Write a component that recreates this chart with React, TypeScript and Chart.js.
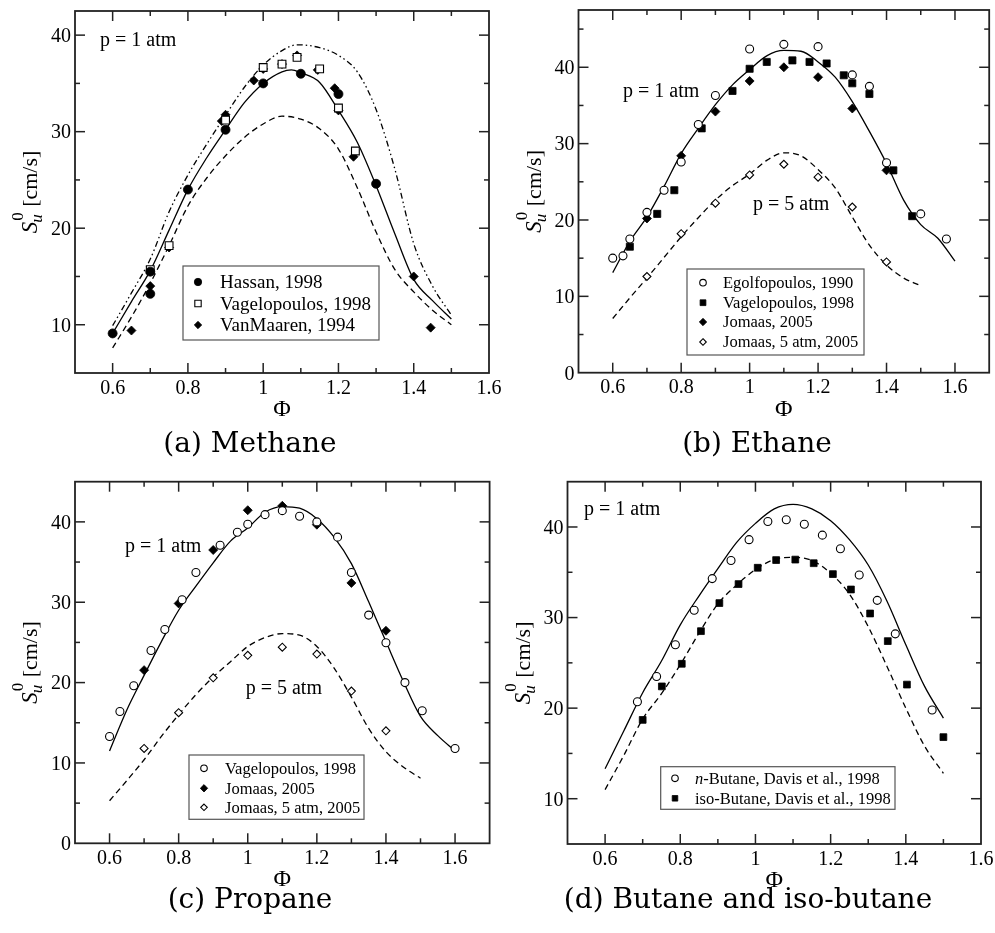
import React, { useEffect, useRef } from "react";
import { Chart, registerables } from "chart.js";

Chart.register(...registerables);

const SERIF = "'Liberation Serif', 'Times New Roman', Times, serif";
const CAPTION_FONT = "'DejaVu Serif', serif";
const AXIS_COLOR = "#222";

// ---------- shared tick values ----------
const phiMajor = [0.6, 0.8, 1.0, 1.2, 1.4, 1.6];
const phiLabels = ["0.6", "0.8", "1", "1.2", "1.4", "1.6"];
const phiMinor = [0.7, 0.9, 1.1, 1.3, 1.5];
const suMajorFrom10 = [10, 20, 30, 40];
const suLabelsFrom10 = ["10", "20", "30", "40"];
const suMajorFrom0 = [0, 10, 20, 30, 40];
const suLabelsFrom0 = ["0", "10", "20", "30", "40"];

// ---------- (a) Methane ----------
const ch4HassanPhi = [0.6, 0.7, 0.7, 0.8, 0.9, 1.0, 1.1, 1.2, 1.3];
const ch4HassanSu = [9.1, 15.5, 13.2, 24.0, 30.2, 35.0, 36.0, 33.9, 24.6];
const ch4VagelPhi = [0.7, 0.75, 0.9, 1.0, 1.05, 1.09, 1.15, 1.2, 1.245];
const ch4VagelSu = [15.7, 18.2, 31.2, 36.65, 37.0, 37.7, 36.5, 32.45, 28.0];
const ch4MaarenPhi = [0.65, 0.7, 0.75, 0.89, 0.9, 0.975, 1.0, 1.05, 1.09, 1.145, 1.19, 1.2, 1.24, 1.4, 1.445];
const ch4MaarenSu = [9.4, 14.0, 18.0, 31.1, 31.75, 35.3, 36.5, 37.0, 37.9, 36.4, 34.5, 32.2, 27.4, 15.0, 9.7];
const ch4SolidPhi = [0.6, 0.65, 0.7, 0.75, 0.8, 0.85, 0.9, 0.95, 1.0, 1.05, 1.075, 1.1, 1.15, 1.2, 1.25, 1.3, 1.35, 1.4, 1.45, 1.5];
const ch4SolidSu = [9.1, 12.4, 15.6, 19.8, 24.0, 27.3, 30.2, 33.0, 35.0, 36.2, 36.4, 36.1, 35.1, 32.2, 28.9, 24.4, 19.4, 14.7, 12.5, 10.6];
const ch4DashPhi = [0.6, 0.65, 0.7, 0.75, 0.8, 0.85, 0.9, 0.95, 1.0, 1.05, 1.1, 1.15, 1.2, 1.25, 1.3, 1.35, 1.4, 1.45, 1.5];
const ch4DashSu = [7.6, 10.8, 14.3, 18.2, 22.3, 25.2, 27.5, 29.4, 30.8, 31.6, 31.3, 30.3, 28.2, 24.2, 19.6, 15.7, 13.4, 11.5, 10.0];
const ch4DotPhi = [0.6, 0.65, 0.7, 0.75, 0.8, 0.85, 0.9, 0.95, 1.0, 1.05, 1.09, 1.15, 1.2, 1.25, 1.3, 1.35, 1.4, 1.45, 1.5];
const ch4DotSu = [9.9, 13.3, 16.8, 21.7, 25.5, 28.7, 31.7, 34.6, 36.9, 38.4, 39.0, 38.7, 37.9, 36.2, 32.3, 26.1, 18.4, 14.0, 11.0];

// ---------- (b) Ethane ----------
const c2EgolfPhi = [0.6, 0.63, 0.65, 0.7, 0.75, 0.8, 0.85, 0.9, 1.0, 1.1, 1.2, 1.3, 1.35, 1.4, 1.5, 1.575];
const c2EgolfSu = [15.0, 15.3, 17.5, 21.0, 23.9, 27.6, 32.5, 36.3, 42.4, 43.0, 42.7, 39.0, 37.5, 27.5, 20.8, 17.5];
const c2VagelPhi = [0.65, 0.73, 0.78, 0.86, 0.95, 1.0, 1.05, 1.125, 1.175, 1.225, 1.275, 1.3, 1.35, 1.42, 1.475];
const c2VagelSu = [16.5, 20.8, 23.9, 32.0, 36.9, 39.8, 40.7, 40.9, 40.7, 40.5, 38.95, 37.9, 36.5, 26.5, 20.5];
const c2JomaasPhi = [0.7, 0.8, 0.9, 1.0, 1.1, 1.2, 1.3, 1.4];
const c2JomaasSu = [20.2, 28.4, 34.2, 38.2, 40.0, 38.7, 34.6, 26.5];
const c2Jomaas5Su = [12.6, 18.2, 22.2, 25.9, 27.3, 25.6, 21.7, 14.5];
const c2SolidPhi = [0.6, 0.65, 0.7, 0.75, 0.8, 0.85, 0.9, 0.95, 1.0, 1.05, 1.1, 1.15, 1.2, 1.25, 1.3, 1.35, 1.4, 1.45, 1.5, 1.55, 1.6];
const c2SolidSu = [13.1, 17.2, 20.4, 24.4, 28.7, 32.0, 35.1, 37.7, 39.7, 41.5, 42.2, 42.1, 40.7, 38.7, 35.5, 31.6, 27.4, 22.6, 19.4, 17.6, 14.6];
const c2DashPhi = [0.6, 0.65, 0.7, 0.75, 0.8, 0.85, 0.9, 0.95, 1.0, 1.05, 1.1, 1.15, 1.2, 1.25, 1.3, 1.35, 1.4, 1.45, 1.5];
const c2DashSu = [7.1, 9.8, 12.4, 15.1, 17.8, 20.3, 22.6, 24.5, 26.0, 27.8, 28.8, 28.4, 26.6, 24.2, 20.4, 16.7, 14.1, 12.4, 11.4];

// ---------- (c) Propane ----------
const c3VagelPhi = [0.6, 0.63, 0.67, 0.72, 0.76, 0.81, 0.85, 0.92, 0.97, 1.0, 1.05, 1.1, 1.15, 1.2, 1.26, 1.3, 1.35, 1.4, 1.455, 1.505, 1.6];
const c3VagelSu = [13.3, 16.4, 19.6, 24.0, 26.6, 30.3, 33.7, 37.1, 38.7, 39.7, 40.9, 41.4, 40.7, 40.0, 38.1, 33.7, 28.4, 24.95, 20.0, 16.5, 11.8];
const c3JomaasPhi = [0.7, 0.8, 0.9, 1.0, 1.1, 1.2, 1.3, 1.4];
const c3JomaasSu = [21.55, 29.85, 36.5, 41.45, 42.0, 39.65, 32.4, 26.45];
const c3Jomaas5Su = [11.8, 16.25, 20.6, 23.4, 24.4, 23.55, 18.95, 14.0];
const c3SolidPhi = [0.6, 0.65, 0.7, 0.75, 0.8, 0.85, 0.9, 0.95, 1.0, 1.05, 1.1, 1.15, 1.2, 1.25, 1.3, 1.35, 1.4, 1.45, 1.5, 1.55, 1.6];
const c3SolidSu = [11.5, 16.6, 20.9, 25.1, 29.0, 32.0, 34.9, 37.6, 39.25, 41.2, 41.9, 41.7, 40.4, 38.1, 34.8, 30.05, 25.1, 20.2, 15.8, 13.4, 11.5];
const c3DashPhi = [0.6, 0.65, 0.7, 0.75, 0.8, 0.85, 0.9, 0.95, 1.0, 1.05, 1.1, 1.15, 1.2, 1.25, 1.3, 1.35, 1.4, 1.45, 1.5];
const c3DashSu = [5.3, 7.8, 10.4, 13.3, 16.0, 18.5, 20.7, 22.6, 24.5, 25.6, 26.1, 25.9, 24.5, 21.8, 18.2, 14.3, 11.4, 9.5, 8.1];

// ---------- (d) Butane and iso-butane ----------
const c4NPhi = [0.686, 0.737, 0.787, 0.837, 0.885, 0.935, 0.983, 1.033, 1.082, 1.13, 1.178, 1.226, 1.276, 1.324, 1.372, 1.47];
const c4NSu = [20.7, 23.5, 27.0, 30.8, 34.3, 36.3, 38.6, 40.6, 40.8, 40.3, 39.1, 37.6, 34.7, 31.9, 28.2, 19.8];
const c4IsoPhi = [0.7, 0.751, 0.804, 0.855, 0.904, 0.955, 1.006, 1.055, 1.106, 1.155, 1.206, 1.254, 1.305, 1.352, 1.403, 1.5];
const c4IsoSu = [18.7, 22.4, 24.9, 28.5, 31.6, 33.7, 35.5, 36.35, 36.4, 36.0, 34.8, 33.1, 30.45, 27.4, 22.6, 16.8];
const c4CurvePhi = [0.6, 0.65, 0.7, 0.75, 0.8, 0.85, 0.9, 0.95, 1.0, 1.05, 1.1, 1.15, 1.2, 1.25, 1.3, 1.35, 1.4, 1.45, 1.5];
const c4SolidSu = [13.3, 17.5, 21.7, 25.2, 29.2, 32.4, 35.4, 38.3, 40.4, 42.0, 42.5, 42.0, 40.7, 38.6, 35.8, 31.8, 27.0, 22.4, 18.9];
const c4DashSu = [11.0, 14.8, 18.8, 21.6, 24.8, 28.3, 31.5, 33.6, 35.3, 36.4, 36.65, 36.3, 34.9, 32.6, 29.0, 24.6, 20.0, 15.8, 12.8];

type MarkerStyle = "circle" | "rect" | "rectRot";
type Marker = { style: MarkerStyle; filled: boolean; radius: number };

const DASHED = [6, 4];
const DASH_DOT_DOT = [6, 3, 1.5, 3, 1.5, 3];

function pts(xs: number[], ys: number[]) {
  return xs.map((x, i) => ({ x, y: ys[i] }));
}

function markerSet(label: string, xs: number[], ys: number[], m: Marker) {
  return {
    label,
    data: pts(xs, ys),
    showLine: false,
    pointStyle: m.style,
    pointRadius: m.radius,
    pointBackgroundColor: m.filled ? "#000" : "#fff",
    pointBorderColor: "#000",
    pointBorderWidth: m.filled ? 0.8 : 1.1,
    order: 0,
  };
}

function curveSet(label: string, xs: number[], ys: number[], dash: number[]) {
  return {
    label,
    data: pts(xs, ys),
    showLine: true,
    borderColor: "#000",
    borderWidth: 1.3,
    borderDash: dash,
    pointRadius: 0,
    cubicInterpolationMode: "monotone",
    fill: false,
    order: 1,
  };
}

type LegendItem = { parts: { text: string; italic?: boolean }[]; marker: Marker };

type PanelSpec = {
  key: string;
  canvas: { left: number; top: number; width: number; height: number };
  plot: { left: number; top: number; right: number; bottom: number };
  xRange: [number, number];
  yRange: [number, number];
  yMajor: number[];
  yLabels: string[];
  yMinor: number[];
  notes: { text: string; x: number; y: number }[];
  legend: { box: [number, number, number, number]; markerX: number; textX: number; rows: number[]; fontSize: number; items: LegendItem[] };
  caption: { text: string; cx: number; cy: number };
  datasets: any[];
};

const mHassan: Marker = { style: "circle", filled: true, radius: 4.5 };
const mVagelA: Marker = { style: "rect", filled: false, radius: 5.5 };
const mMaaren: Marker = { style: "rectRot", filled: true, radius: 4.5 };
const mOpenCircle: Marker = { style: "circle", filled: false, radius: 4 };
const mFilledSquare: Marker = { style: "rect", filled: true, radius: 5 };
const mFilledDiamond: Marker = { style: "rectRot", filled: true, radius: 4.5 };
const mOpenDiamond: Marker = { style: "rectRot", filled: false, radius: 4 };
const mIsoSquare: Marker = { style: "rect", filled: true, radius: 4.8 };

const panels: PanelSpec[] = [
  {
    key: "a",
    canvas: { left: 0, top: 0, width: 515, height: 455 },
    plot: { left: 75, top: 11, right: 489, bottom: 373 },
    xRange: [0.5, 1.6],
    yRange: [5, 42.5],
    yMajor: suMajorFrom10,
    yLabels: suLabelsFrom10,
    yMinor: [15, 25, 35],
    notes: [{ text: "p = 1 atm", x: 100, y: 46 }],
    legend: {
      box: [183, 266, 379, 340],
      markerX: 198,
      textX: 220,
      rows: [282, 303.5, 325],
      fontSize: 19,
      items: [
        { parts: [{ text: "Hassan, 1998" }], marker: mHassan },
        { parts: [{ text: "Vagelopoulos, 1998" }], marker: mVagelA },
        { parts: [{ text: "VanMaaren, 1994" }], marker: mMaaren },
      ],
    },
    caption: { text: "(a) Methane", cx: 250, cy: 443 },
    datasets: [
      markerSet("Hassan, 1998", ch4HassanPhi, ch4HassanSu, mHassan),
      markerSet("Vagelopoulos, 1998", ch4VagelPhi, ch4VagelSu, mVagelA),
      markerSet("VanMaaren, 1994", ch4MaarenPhi, ch4MaarenSu, mMaaren),
      curveSet("model 1", ch4SolidPhi, ch4SolidSu, []),
      curveSet("model 2", ch4DashPhi, ch4DashSu, DASHED),
      curveSet("model 3", ch4DotPhi, ch4DotSu, DASH_DOT_DOT),
    ],
  },
  {
    key: "b",
    canvas: { left: 495, top: 0, width: 500, height: 455 },
    plot: { left: 578.5, top: 10, right: 992.5, bottom: 372.7 },
    xRange: [0.5, 1.7],
    yRange: [0, 47.5],
    yMajor: suMajorFrom0,
    yLabels: suLabelsFrom0,
    yMinor: [5, 15, 25, 35, 45],
    notes: [
      { text: "p = 1 atm", x: 623, y: 96.5 },
      { text: "p = 5 atm", x: 753, y: 210 },
    ],
    legend: {
      box: [687, 269, 864, 355],
      markerX: 703,
      textX: 723,
      rows: [282.7, 302.7, 322, 342],
      fontSize: 16.5,
      items: [
        { parts: [{ text: "Egolfopoulos, 1990" }], marker: mOpenCircle },
        { parts: [{ text: "Vagelopoulos, 1998" }], marker: mFilledSquare },
        { parts: [{ text: "Jomaas, 2005" }], marker: mFilledDiamond },
        { parts: [{ text: "Jomaas, 5 atm, 2005" }], marker: mOpenDiamond },
      ],
    },
    caption: { text: "(b) Ethane", cx: 757, cy: 443 },
    datasets: [
      markerSet("Egolfopoulos, 1990", c2EgolfPhi, c2EgolfSu, mOpenCircle),
      markerSet("Vagelopoulos, 1998", c2VagelPhi, c2VagelSu, mFilledSquare),
      markerSet("Jomaas, 2005", c2JomaasPhi, c2JomaasSu, mFilledDiamond),
      markerSet("Jomaas, 5 atm, 2005", c2JomaasPhi, c2Jomaas5Su, mOpenDiamond),
      curveSet("1 atm", c2SolidPhi, c2SolidSu, []),
      curveSet("5 atm", c2DashPhi, c2DashSu, DASHED),
    ],
  },
  {
    key: "c",
    canvas: { left: 0, top: 455, width: 495, height: 478 },
    plot: { left: 75, top: 481.7, right: 489.6, bottom: 843.3 },
    xRange: [0.5, 1.7],
    yRange: [0, 45],
    yMajor: suMajorFrom0,
    yLabels: suLabelsFrom0,
    yMinor: [5, 15, 25, 35],
    notes: [
      { text: "p = 1 atm", x: 125, y: 551.7 },
      { text: "p = 5 atm", x: 245.7, y: 694 },
    ],
    legend: {
      box: [189, 755, 364, 819.3],
      markerX: 204,
      textX: 225,
      rows: [768.3, 788.3, 807.3],
      fontSize: 16.5,
      items: [
        { parts: [{ text: "Vagelopoulos, 1998" }], marker: mOpenCircle },
        { parts: [{ text: "Jomaas, 2005" }], marker: mFilledDiamond },
        { parts: [{ text: "Jomaas, 5 atm, 2005" }], marker: mOpenDiamond },
      ],
    },
    caption: { text: "(c) Propane", cx: 250, cy: 898.5 },
    datasets: [
      markerSet("Vagelopoulos, 1998", c3VagelPhi, c3VagelSu, mOpenCircle),
      markerSet("Jomaas, 2005", c3JomaasPhi, c3JomaasSu, mFilledDiamond),
      markerSet("Jomaas, 5 atm, 2005", c3JomaasPhi, c3Jomaas5Su, mOpenDiamond),
      curveSet("1 atm", c3SolidPhi, c3SolidSu, []),
      curveSet("5 atm", c3DashPhi, c3DashSu, DASHED),
    ],
  },
  {
    key: "d",
    canvas: { left: 495, top: 455, width: 500, height: 478 },
    plot: { left: 567.5, top: 481.7, right: 981, bottom: 844 },
    xRange: [0.5, 1.6],
    yRange: [5, 45],
    yMajor: suMajorFrom10,
    yLabels: suLabelsFrom10,
    yMinor: [15, 25, 35],
    notes: [{ text: "p = 1 atm", x: 584, y: 514.5 }],
    legend: {
      box: [660.7, 766.7, 895, 809.3],
      markerX: 675,
      textX: 695,
      rows: [778.3, 798.3],
      fontSize: 16.5,
      items: [
        { parts: [{ text: "n", italic: true }, { text: "-Butane, Davis et al., 1998" }], marker: mOpenCircle },
        { parts: [{ text: "iso-Butane, Davis et al., 1998" }], marker: mIsoSquare },
      ],
    },
    caption: { text: "(d) Butane and iso-butane", cx: 748, cy: 898.5 },
    datasets: [
      markerSet("n-Butane, Davis et al., 1998", c4NPhi, c4NSu, mOpenCircle),
      markerSet("iso-Butane, Davis et al., 1998", c4IsoPhi, c4IsoSu, mIsoSquare),
      curveSet("n-butane model", c4CurvePhi, c4SolidSu, []),
      curveSet("iso-butane model", c4CurvePhi, c4DashSu, DASHED),
    ],
  },
];

function drawMarker(ctx: CanvasRenderingContext2D, m: Marker, x: number, y: number, r: number) {
  ctx.save();
  ctx.beginPath();
  if (m.style === "circle") {
    ctx.arc(x, y, r, 0, Math.PI * 2);
  } else if (m.style === "rect") {
    const h = r * Math.SQRT1_2;
    ctx.rect(x - h, y - h, 2 * h, 2 * h);
  } else {
    ctx.moveTo(x, y - r);
    ctx.lineTo(x + r, y);
    ctx.lineTo(x, y + r);
    ctx.lineTo(x - r, y);
    ctx.closePath();
  }
  ctx.fillStyle = m.filled ? "#000" : "#fff";
  ctx.fill();
  ctx.strokeStyle = "#000";
  ctx.lineWidth = m.filled ? 0.8 : 1.1;
  ctx.stroke();
  ctx.restore();
}

function line(ctx: CanvasRenderingContext2D, x1: number, y1: number, x2: number, y2: number) {
  ctx.beginPath();
  ctx.moveTo(x1, y1);
  ctx.lineTo(x2, y2);
  ctx.stroke();
}

function drawYTitle(ctx: CanvasRenderingContext2D, x: number, cy: number) {
  ctx.save();
  ctx.translate(x, cy);
  ctx.rotate(-Math.PI / 2);
  ctx.fillStyle = "#000";
  ctx.textBaseline = "alphabetic";
  ctx.textAlign = "left";
  const fMain = `italic 23px ${SERIF}`;
  const fSub = `italic 17px ${SERIF}`;
  const fSup = `17px ${SERIF}`;
  const fRest = `22px ${SERIF}`;
  ctx.font = fMain;
  const wS = ctx.measureText("S").width;
  ctx.font = fSub;
  const wU = ctx.measureText("u").width;
  ctx.font = fSup;
  const w0 = ctx.measureText("0").width;
  ctx.font = fRest;
  const wRest = ctx.measureText(" [cm/s]").width;
  const total = wS + Math.max(wU, w0) + 1 + wRest;
  let cx = -total / 2;
  ctx.font = fMain;
  ctx.fillText("S", cx, 0);
  cx += wS;
  ctx.font = fSub;
  ctx.fillText("u", cx - 1, 5);
  ctx.font = fSup;
  ctx.fillText("0", cx + 1, -14);
  cx += Math.max(wU, w0) + 1;
  ctx.font = fRest;
  ctx.fillText(" [cm/s]", cx, 0);
  ctx.restore();
}

function decorPlugin(spec: PanelSpec) {
  const ox = spec.canvas.left;
  const oy = spec.canvas.top;
  return {
    id: "decor-" + spec.key,
    afterDraw(chart: any) {
      const ctx: CanvasRenderingContext2D = chart.ctx;
      const xs = chart.scales.x;
      const ys = chart.scales.y;
      const { left, right, top, bottom } = chart.chartArea;
      ctx.save();

      // frame
      ctx.strokeStyle = AXIS_COLOR;
      ctx.lineWidth = 1.8;
      ctx.strokeRect(left, top, right - left, bottom - top);

      // inward ticks on all four sides
      ctx.lineWidth = 1.5;
      const majorLen = 10;
      const minorLen = 5;
      for (const v of phiMajor) {
        const px = xs.getPixelForValue(v);
        if (px <= left + 1 || px >= right - 1) continue;
        line(ctx, px, bottom, px, bottom - majorLen);
        line(ctx, px, top, px, top + majorLen);
      }
      for (const v of phiMinor) {
        const px = xs.getPixelForValue(v);
        line(ctx, px, bottom, px, bottom - minorLen);
        line(ctx, px, top, px, top + minorLen);
      }
      for (const v of spec.yMajor) {
        const py = ys.getPixelForValue(v);
        if (py <= top + 1 || py >= bottom - 1) continue;
        line(ctx, left, py, left + majorLen, py);
        line(ctx, right, py, right - majorLen, py);
      }
      for (const v of spec.yMinor) {
        const py = ys.getPixelForValue(v);
        if (py <= top + 1 || py >= bottom - 1) continue;
        line(ctx, left, py, left + minorLen, py);
        line(ctx, right, py, right - minorLen, py);
      }

      // tick labels
      ctx.fillStyle = "#000";
      ctx.font = `20px ${SERIF}`;
      ctx.textBaseline = "alphabetic";
      ctx.textAlign = "center";
      phiMajor.forEach((v, i) => {
        ctx.fillText(phiLabels[i], xs.getPixelForValue(v), bottom + 20.5);
      });
      ctx.textAlign = "right";
      spec.yMajor.forEach((v, i) => {
        ctx.fillText(spec.yLabels[i], left - 4, ys.getPixelForValue(v) + 6.8);
      });

      // axis titles
      ctx.textAlign = "center";
      ctx.font = `24px ${SERIF}`;
      ctx.fillText("\u03A6", (left + right) / 2, bottom + 43);
      drawYTitle(ctx, left - 38, (top + bottom) / 2);

      // pressure notes
      ctx.textAlign = "left";
      ctx.font = `20px ${SERIF}`;
      for (const n of spec.notes) {
        ctx.fillText(n.text, n.x - ox, n.y - oy);
      }

      // legend
      const lg = spec.legend;
      const [bl, bt, br, bb] = lg.box;
      ctx.fillStyle = "#fff";
      ctx.fillRect(bl - ox, bt - oy, br - bl, bb - bt);
      ctx.strokeStyle = "#555";
      ctx.lineWidth = 1.2;
      ctx.strokeRect(bl - ox, bt - oy, br - bl, bb - bt);
      lg.items.forEach((item, i) => {
        const ry = lg.rows[i] - oy;
        drawMarker(ctx, item.marker, lg.markerX - ox, ry, item.marker.radius * 0.82);
        let tx = lg.textX - ox;
        ctx.fillStyle = "#000";
        ctx.textAlign = "left";
        for (const p of item.parts) {
          ctx.font = `${p.italic ? "italic " : ""}${lg.fontSize}px ${SERIF}`;
          ctx.fillText(p.text, tx, ry + lg.fontSize * 0.33);
          tx += ctx.measureText(p.text).width;
        }
      });
      ctx.restore();
    },
  };
}

function Panel({ spec }: { spec: PanelSpec }) {
  const ref = useRef<HTMLCanvasElement>(null);
  useEffect(() => {
    const c = spec.canvas;
    const p = spec.plot;
    const chart = new Chart(ref.current as HTMLCanvasElement, {
      type: "scatter",
      data: { datasets: spec.datasets },
      options: {
        animation: false,
        responsive: false,
        devicePixelRatio: 1,
        events: [],
        layout: {
          padding: {
            left: p.left - c.left,
            top: p.top - c.top,
            right: c.left + c.width - p.right,
            bottom: c.top + c.height - p.bottom,
          },
        },
        scales: {
          x: { type: "linear", min: spec.xRange[0], max: spec.xRange[1], display: false },
          y: { type: "linear", min: spec.yRange[0], max: spec.yRange[1], display: false },
        },
        plugins: { legend: { display: false }, tooltip: { enabled: false }, title: { display: false } },
      } as any,
      plugins: [decorPlugin(spec)],
    });
    return () => chart.destroy();
  }, [spec]);
  const c = spec.canvas;
  return (
    <canvas
      ref={ref}
      width={c.width}
      height={c.height}
      style={{ position: "absolute", left: c.left, top: c.top, width: c.width, height: c.height }}
    />
  );
}

export default function App() {
  return (
    <div style={{ position: "absolute", left: 0, top: 0, width: 995, height: 933, background: "#fff", overflow: "hidden" }}>
      {panels.map((s) => (
        <Panel key={s.key} spec={s} />
      ))}
      {panels.map((s) => (
        <div
          key={"cap-" + s.key}
          style={{
            position: "absolute",
            left: s.caption.cx - 250,
            top: s.caption.cy - 16,
            width: 500,
            textAlign: "center",
            fontFamily: CAPTION_FONT,
            fontSize: 28,
            lineHeight: "32px",
            color: "#000",
            whiteSpace: "nowrap",
          }}
        >
          {s.caption.text}
        </div>
      ))}
    </div>
  );
}
